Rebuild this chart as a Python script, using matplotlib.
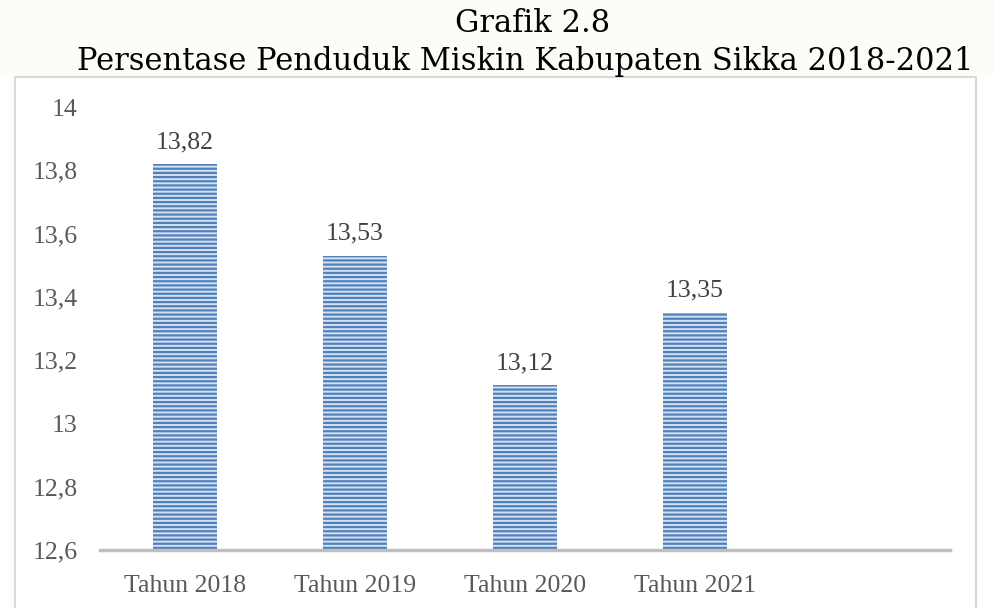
import matplotlib
matplotlib.use('Agg')
import matplotlib.pyplot as plt
from matplotlib.patches import Rectangle

# Data
kategori = ['Tahun 2018', 'Tahun 2019', 'Tahun 2020', 'Tahun 2021']
persen = [13.82, 13.53, 13.12, 13.35]
label_nilai = ['13,82', '13,53', '13,12', '13,35']
yticks = [12.6, 12.8, 13.0, 13.2, 13.4, 13.6, 13.8, 14.0]
ytick_labels = ['12,6', '12,8', '13', '13,2', '13,4', '13,6', '13,8', '14']

plt.rcParams['hatch.linewidth'] = 1.6

W, H = 995, 608
fig = plt.figure(figsize=(W / 100, H / 100), dpi=100)
fig.patch.set_facecolor('white')

# fond du titre + cadre du graphique
fig.patches.append(Rectangle((0, 1 - 77 / H), 1, 77 / H, transform=fig.transFigure,
                             facecolor='#fdfcf8', edgecolor='none', zorder=-2))
fig.patches.append(Rectangle((15 / W, -0.01), (976 - 15) / W, (608 - 77) / H + 0.01,
                             transform=fig.transFigure, facecolor='white',
                             edgecolor='#d9d9d9', linewidth=1.5, zorder=-1))

fig.text(533 / W, 1 - 32 / H, 'Grafik 2.8', family='DejaVu Serif', fontsize=22,
         ha='center', va='baseline', color='black')
fig.text(525 / W, 1 - 70 / H, 'Persentase Penduduk Miskin Kabupaten Sikka 2018-2021',
         family='DejaVu Serif', fontsize=22, ha='center', va='baseline', color='black')

ax = fig.add_axes([100 / W, (H - 550) / H, 850 / W, 443 / H])
ax.set_facecolor('none')
ax.set_zorder(1)

x = list(range(len(kategori)))
bars = ax.bar(x, [v - 12.6 for v in persen], bottom=12.6, width=0.376,
              facecolor='#d6e2f0', edgecolor='#4f81bd', linewidth=0,
              hatch='----', zorder=2)

for xi, v, lab in zip(x, persen, label_nilai):
    ax.annotate(lab, (xi, v), xytext=(0, 11), textcoords='offset pixels',
                ha='center', va='bottom', fontsize=18.5, color='#404040',
                family='Liberation Serif')

ax.set_xlim(-0.5, 4.5)
ax.set_ylim(12.6, 14.0)
ax.set_yticks(yticks)
ax.set_yticklabels(ytick_labels, family='Liberation Serif', fontsize=18.5, color='#595959')
ax.set_xticks(x)
ax.set_xticklabels(kategori, family='Liberation Serif', fontsize=18.5, color='#595959')
ax.tick_params(axis='both', length=0)
ax.tick_params(axis='y', pad=16)
ax.tick_params(axis='x', pad=18)

for s in ['top', 'right', 'left']:
    ax.spines[s].set_visible(False)
ax.spines['bottom'].set_color('#bfbfbf')
ax.spines['bottom'].set_linewidth(2.5)
ax.spines['bottom'].set_zorder(3)

fig.savefig('out.png', dpi=100)
